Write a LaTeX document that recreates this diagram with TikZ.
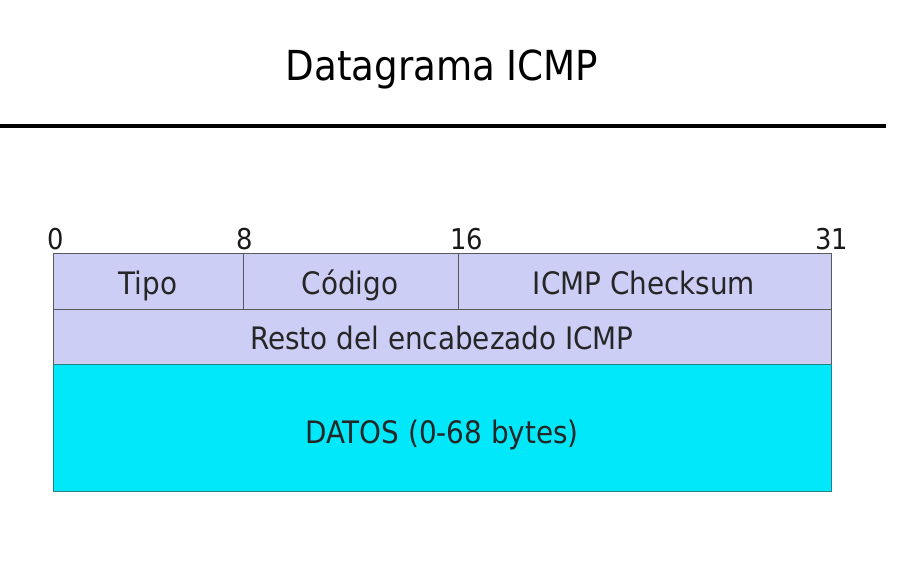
\documentclass[tikz,border=0pt]{standalone}
\usepackage{fontspec}
\setmainfont{DejaVu Sans Condensed}
\begin{document}
\begin{tikzpicture}[x=0.75pt,y=-0.75pt,
  hdr/.style={draw=gray!70!black, line width=0.6pt, fill=hdrfill},
  datacell/.style={draw=teal!70!gray, line width=0.6pt, fill=datafill},
  celltext/.style={font=\fontsize{23.2}{27}\selectfont, text=black!85, anchor=base},
  bitlabel/.style={font=\fontsize{21.5}{25}\selectfont, text=black!90, anchor=base}]
\definecolor{hdrfill}{RGB}{204,206,246}
\definecolor{datafill}{RGB}{0,232,250}
\useasboundingbox (0,0) rectangle (904,565);
% title and rule
\node[font=\fontsize{31}{36}\selectfont, anchor=base] (title) at (442,80) {Datagrama ICMP};
\coordinate (ruleL) at (0,126);
\coordinate (ruleR) at (886,126);
\draw[line width=3pt] (ruleL) -- (ruleR);
% header rows
\draw[hdr] (53,253) rectangle (243,309);
\draw[hdr] (243,253) rectangle (458,309);
\draw[hdr] (458,253) rectangle (831,309);
\draw[hdr] (53,309) rectangle (831,364);
\draw[datacell] (53,364) rectangle (831,491);
% field labels
\node[celltext] (tipo) at (148,294) {Tipo};
\node[celltext] (codigo) at (350,294) {Código};
\node[celltext] (chk) at (644,294) {ICMP Checksum};
\node[celltext] (resto) at (442,349) {Resto del encabezado ICMP};
\node[celltext] (datos) at (442,443) {DATOS (0-68 bytes)};
% bit positions
\node[bitlabel] (b0) at (56,249) {0};
\node[bitlabel] (b8) at (245,249) {8};
\node[bitlabel] (b16) at (467,249) {16};
\node[bitlabel] (b31) at (832,249) {31};
\end{tikzpicture}
\end{document}
